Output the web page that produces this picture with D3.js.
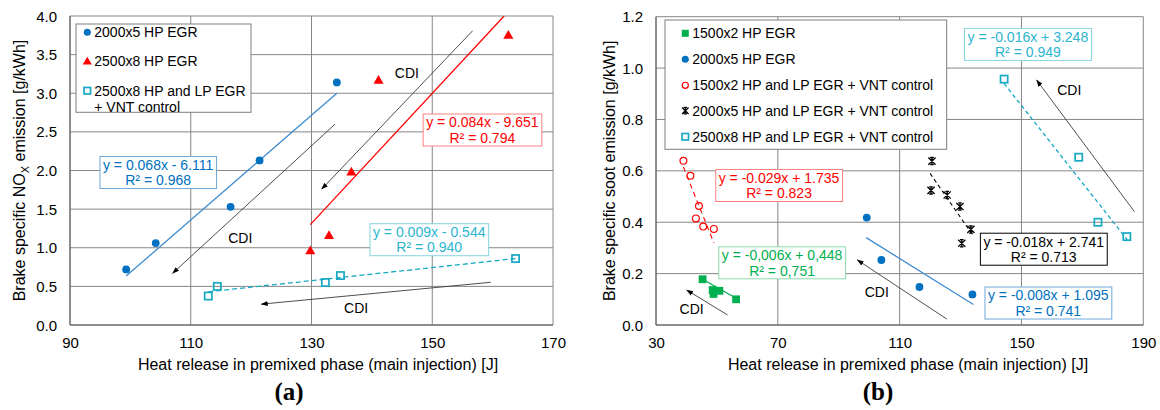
<!DOCTYPE html>
<html><head><meta charset="utf-8">
<script src="https://cdn.jsdelivr.net/npm/d3@7"></script>
<style>
body{margin:0;background:#fff}
svg{display:block}
text{font-family:"Liberation Sans",Arial,sans-serif}
text.serif{font-family:"Liberation Serif","DejaVu Serif",serif}
</style>
</head><body>
<svg id="c" width="1160" height="410"></svg>
<script>
// ---------------- DATA (panel a: NOx) ----------------
const xTicksA = [90, 110, 130, 150, 170];
const yTicksA = [0, 0.5, 1, 1.5, 2, 2.5, 3, 3.5, 4];
const a_hp2000x5  = [[99.3,0.72],[104.2,1.06],[116.6,1.53],[121.4,2.13],[134.2,3.14]];
const a_hp2500x8  = [[129.8,0.96],[132.9,1.16],[136.6,1.98],[141.1,3.17],[162.6,3.75]];
const a_hpl2500x8 = [[112.9,0.375],[114.4,0.50],[132.3,0.55],[134.8,0.64],[163.8,0.86]];
const a_trendBlue = [[99.3,0.634],[134.2,3.0]];
const a_trendRed  = [[129.8,1.30],[161.9,4.0]];
const a_trendCyan = [[112.9,0.43],[163.8,0.86]];
const a_arrows = [[[156.7,3.81],[131.7,1.76]], [[133.9,2.60],[107.0,0.67]], [[159.7,0.553],[121.7,0.27]]];
const a_cdiLabels = [[145.8,3.258],[118.2,1.13],[137.4,0.216]];
const a_eqBlue = ["y = 0.068x - 6.111", "R² = 0.968"];
const a_eqRed  = ["y = 0.084x - 9.651", "R² = 0.794"];
const a_eqCyan = ["y = 0.009x - 0.544", "R² = 0.940"];
const a_legend = ["2000x5 HP EGR", "2500x8 HP EGR", "2500x8 HP and LP EGR", "+ VNT control"];

// ---------------- DATA (panel b: soot) ----------------
const xTicksB = [30, 70, 110, 150, 190];
const yTicksB = [0, 0.2, 0.4, 0.6, 0.8, 1.0, 1.2];
const b_hp1500x2  = [[45.3,0.178],[48.6,0.136],[48.9,0.121],[50.8,0.133],[56.3,0.100]];
const b_hp2000x5  = [[99.2,0.418],[104.0,0.253],[116.5,0.148],[133.9,0.119]];
const b_hpl1500x2 = [[39.0,0.639],[41.3,0.581],[44.1,0.463],[43.1,0.415],[45.5,0.383],[49.0,0.374]];
const b_hpl2000x5 = [[120.6,0.638],[120.3,0.524],[125.6,0.506],[129.8,0.461],[133.4,0.372],[130.4,0.318]];
const b_hpl2500x8 = [[144.3,0.957],[168.8,0.653],[175.1,0.400],[184.6,0.344]];
const b_trendGreen = [[45.3,0.178],[56.3,0.104]];
const b_trendRed   = [[39.0,0.615],[49.0,0.32]];
const b_trendBlue  = [[99.0,0.34],[134.2,0.08]];
const b_trendBlack = [[120.0,0.59],[134.0,0.35]];
const b_trendCyan  = [[144.3,0.94],[185.5,0.32]];
const b_arrows = [[[53.5,0.039],[40.1,0.136]], [[125.5,0.023],[96.1,0.253]], [[187.1,0.441],[155.0,0.953]]];
const b_cdiLabels = [[41.7,0.061],[102.5,0.130],[165.7,0.914]];
const b_eqCyan  = ["y = -0.016x + 3.248", "R² = 0.949"];
const b_eqRed   = ["y = -0.029x + 1.735", "R² = 0.823"];
const b_eqGreen = ["y = -0,006x + 0,448", "R² = 0,751"];
const b_eqBlack = ["y = -0.018x + 2.741", "R² = 0.713"];
const b_eqBlue  = ["y = -0.008x + 1.095", "R² = 0.741"];
const b_legend = ["1500x2 HP EGR", "2000x5 HP EGR", "1500x2 HP and LP EGR + VNT control",
                  "2000x5 HP and LP EGR + VNT control", "2500x8 HP and LP EGR + VNT control"];

// ---------------- STYLE ----------------
const C = {blue:"#0070C0", blueLine:"#3F8BD0", blueBorder:"#6FA8DC",
           red:"#FF0000", redBorder:"#FF8080",
           cyan:"#16A9C3", cyanText:"#2BB5CF", cyanBorder:"#86D4E2",
           green:"#00B050", greenBorder:"#8AD9AE", black:"#000"};

const svg = d3.select("#c");
const defs = svg.append("defs");
defs.append("marker").attr("id","ah").attr("viewBox","0 0 10 10").attr("refX",9).attr("refY",5)
  .attr("markerWidth",7).attr("markerHeight",7).attr("orient","auto-start-reverse")
  .attr("markerUnits","userSpaceOnUse")
  .append("path").attr("d","M0,1.5 L10,5 L0,8.5 Z").attr("fill","#000");

function panel(o){
  const x = d3.scaleLinear().domain(o.xd).range([o.l, o.r]);
  const y = d3.scaleLinear().domain(o.yd).range([o.b, o.t]);
  const g = svg.append("g");
  const cid = "clip"+o.id;
  defs.append("clipPath").attr("id",cid).append("rect")
    .attr("x",o.l).attr("y",o.t).attr("width",o.r-o.l).attr("height",o.b-o.t);
  g.append("g").selectAll("line").data(o.yt).join("line")
    .attr("x1",o.l).attr("x2",o.r).attr("y1",d=>y(d)).attr("y2",d=>y(d))
    .attr("stroke","#868686").attr("stroke-width",1);
  g.append("g").selectAll("line").data(o.xt).join("line")
    .attr("y1",o.t).attr("y2",o.b).attr("x1",d=>x(d)).attr("x2",d=>x(d))
    .attr("stroke","#868686").attr("stroke-width",1);
  g.append("line").attr("x1",o.l).attr("x2",o.l).attr("y1",o.t).attr("y2",o.b).attr("stroke","#595959");
  g.append("line").attr("x1",o.l).attr("x2",o.r).attr("y1",o.b).attr("y2",o.b).attr("stroke","#595959");
  const ax = g.append("g").attr("transform",`translate(0,${o.b})`)
    .call(d3.axisBottom(x).tickValues(o.xt).tickSize(0).tickPadding(13).tickFormat(d3.format("d")));
  const ay = g.append("g").attr("transform",`translate(${o.l},0)`)
    .call(d3.axisLeft(y).tickValues(o.yt).tickSize(0).tickPadding(13).tickFormat(d3.format(".1f")));
  [ax,ay].forEach(a=>{a.select(".domain").remove();
    a.selectAll("text").attr("font-size",15).attr("fill","#000");});
  ax.selectAll("text").attr("dy","0.71em").attr("y",12);
  ay.selectAll("text").attr("dy","0.34em");
  g.append("text").attr("x",o.xtx).attr("y",370).attr("text-anchor","middle")
    .attr("font-size",16).text("Heat release in premixed phase (main injection) [J]");
  const yt = g.append("text").attr("transform",`translate(${o.ytx},${(o.t+o.b)/2}) rotate(-90)`)
    .attr("text-anchor","middle").attr("dy","0.35em").attr("font-size",16);
  o.ytitle(yt);
  g.append("text").attr("class","serif").attr("x",o.labx).attr("y",400).attr("text-anchor","middle")
    .attr("font-weight","bold").attr("font-size",25).text(o.lab);
  const pg = g.append("g").attr("clip-path",`url(#${cid})`);
  return {x,y,g,pg};
}

function trend(P, pts, color, dash, w){
  P.pg.append("path").datum(pts).attr("d",d3.line().x(d=>P.x(d[0])).y(d=>P.y(d[1])))
    .attr("fill","none").attr("stroke",color).attr("stroke-width",w||1.3)
    .attr("stroke-dasharray",dash||null);
}
function arrows(P, arr, labels){
  arr.forEach(a=>{
    P.g.append("line").attr("x1",P.x(a[0][0])).attr("y1",P.y(a[0][1]))
      .attr("x2",P.x(a[1][0])).attr("y2",P.y(a[1][1]))
      .attr("stroke","#3a3a3a").attr("stroke-width",0.9).attr("marker-end","url(#ah)");
  });
  labels.forEach(l=>{
    P.g.append("text").attr("x",P.x(l[0])).attr("y",P.y(l[1])).attr("dy","0.36em")
      .attr("text-anchor","middle").attr("font-size",14).text("CDI");
  });
}
function eqBox(P, lines, cx, cy, color, border){
  const g = P.g.append("g");
  const t = g.append("text").attr("text-anchor","middle").attr("font-size",14).attr("fill",color);
  lines.forEach((s,i)=>t.append("tspan").attr("x",P.x(cx)).attr("y",P.y(cy)+(i===0?-7.7:7.7)).attr("dy","0.36em").text(s));
  const bb = t.node().getBBox();
  g.insert("rect","text").attr("x",bb.x-3).attr("y",P.y(cy)-16).attr("width",bb.width+6).attr("height",32)
    .attr("fill","#fff").attr("stroke",border).attr("stroke-width",1);
}
function mk(g, type, cx, cy, color, s){
  s = s||1;
  if(type==="circle") g.append("circle").attr("cx",cx).attr("cy",cy).attr("r",3.9*s).attr("fill",color);
  else if(type==="tri") g.append("path").attr("transform",`translate(${cx},${cy+0.6})`)
      .attr("d",d3.symbol(d3.symbolTriangle, 44*s*s)()).attr("fill",color);
  else if(type==="osq") g.append("rect").attr("x",cx-3.6*s).attr("y",cy-3.6*s).attr("width",7.2*s).attr("height",7.2*s)
      .attr("fill","none").attr("stroke",color).attr("stroke-width",1.7);
  else if(type==="fsq") g.append("rect").attr("x",cx-3.9*s).attr("y",cy-3.9*s).attr("width",7.8*s).attr("height",7.8*s)
      .attr("fill",color);
  else if(type==="ocirc") g.append("circle").attr("cx",cx).attr("cy",cy).attr("r",3.4*s)
      .attr("fill","none").attr("stroke",color).attr("stroke-width",1.2);
  else if(type==="star"){
    const r=3.6*s;
    g.append("path").attr("d",`M${cx-r},${cy-r}L${cx+r},${cy+r}M${cx-r},${cy+r}L${cx+r},${cy-r}M${cx},${cy-r-0.6}L${cx},${cy+r+0.6}M${cx-1.8*s},${cy-r}L${cx+1.8*s},${cy-r}M${cx-1.8*s},${cy+r}L${cx+1.8*s},${cy+r}`)
      .attr("stroke",color).attr("stroke-width",1.3).attr("fill","none");
  }
}
function series(P, data, type, color){
  const g = P.g.append("g");
  data.forEach(d=>mk(g,type,P.x(d[0]),P.y(d[1]),color));
}
function legend(P, box, rows, mx, tx){
  const g = P.g.append("g");
  g.append("rect").attr("x",box[0]).attr("y",box[1]).attr("width",box[2]-box[0]).attr("height",box[3]-box[1])
    .attr("fill","#fff").attr("stroke","#7f7f7f");
  rows.forEach(r=>{
    if(r.type) mk(g,r.type,mx,r.y,r.color,0.9);
    g.append("text").attr("x",tx).attr("y",r.y).attr("dy","0.36em").attr("font-size",14).attr("fill","#000").text(r.text);
  });
}

// ---------------- PANEL A ----------------
const A = panel({id:"a", xd:[90,170], yd:[0,4], l:70, r:553, t:16, b:325, xt:xTicksA, yt:yTicksA,
  xtx:318, ytx:19, labx:289, lab:"(a)",
  ytitle:t=>{t.append("tspan").text("Brake specific NO");
    t.append("tspan").attr("font-size",11).attr("dy","4").text("X");
    t.append("tspan").attr("dy","-4").text(" emission [g/kWh]");}});
trend(A, a_trendBlue, C.blueLine);
trend(A, a_trendRed, C.red);
trend(A, a_trendCyan, C.cyan, "5,3");
arrows(A, a_arrows, a_cdiLabels);
series(A, a_hp2000x5, "circle", C.blue);
series(A, a_hp2500x8, "tri", C.red);
series(A, a_hpl2500x8, "osq", C.cyan);
eqBox(A, a_eqBlue, 104.6, 1.974, C.blue, C.blueBorder);
eqBox(A, a_eqRed, 158.3, 2.524, C.red, C.redBorder);
eqBox(A, a_eqCyan, 149.5, 1.104, C.cyanText, C.cyanBorder);
legend(A, [76,24,251,112.3], [
  {type:"circle", color:C.blue, y:32.3, text:a_legend[0]},
  {type:"tri", color:C.red, y:61.3, text:a_legend[1]},
  {type:"osq", color:C.cyan, y:90.7, text:a_legend[2]},
  {type:null, y:106.7, text:a_legend[3]}], 87.3, 94.3);

// ---------------- PANEL B ----------------
const B = panel({id:"b", xd:[30,190], yd:[0,1.2], l:656, r:1143.3, t:16.7, b:325, xt:xTicksB, yt:yTicksB,
  xtx:908, ytx:609, labx:878, lab:"(b)",
  ytitle:t=>t.text("Brake specific soot emission [g/kWh]")});
trend(B, b_trendGreen, C.green);
trend(B, b_trendRed, C.red, "5,4", 1.1);
trend(B, b_trendBlue, C.blueLine);
trend(B, b_trendBlack, "#000", "4,3", 1.1);
trend(B, b_trendCyan, C.cyan, "4,3");
arrows(B, b_arrows, b_cdiLabels);
series(B, b_hp1500x2, "fsq", C.green);
series(B, b_hp2000x5, "circle", C.blue);
series(B, b_hpl1500x2, "ocirc", C.red);
series(B, b_hpl2000x5, "star", "#000");
series(B, b_hpl2500x8, "osq", C.cyan);
eqBox(B, b_eqCyan, 152.1, 1.092, C.cyanText, C.cyanBorder);
eqBox(B, b_eqRed, 70.4, 0.543, C.red, C.redBorder);
eqBox(B, b_eqGreen, 71.4, 0.242, C.green, C.greenBorder);
eqBox(B, b_eqBlack, 157.3, 0.295, "#000", "#000");
eqBox(B, b_eqBlue, 158.8, 0.0856, C.blue, C.blueBorder);
legend(B, [665,20,946.7,149.3], [
  {type:"fsq", color:C.green, y:33.3, text:b_legend[0]},
  {type:"circle", color:C.blue, y:59.3, text:b_legend[1]},
  {type:"ocirc", color:C.red, y:85.3, text:b_legend[2]},
  {type:"star", color:"#000", y:110.7, text:b_legend[3]},
  {type:"osq", color:C.cyan, y:136.7, text:b_legend[4]}], 685.3, 692.3);
</script>
</body></html>
